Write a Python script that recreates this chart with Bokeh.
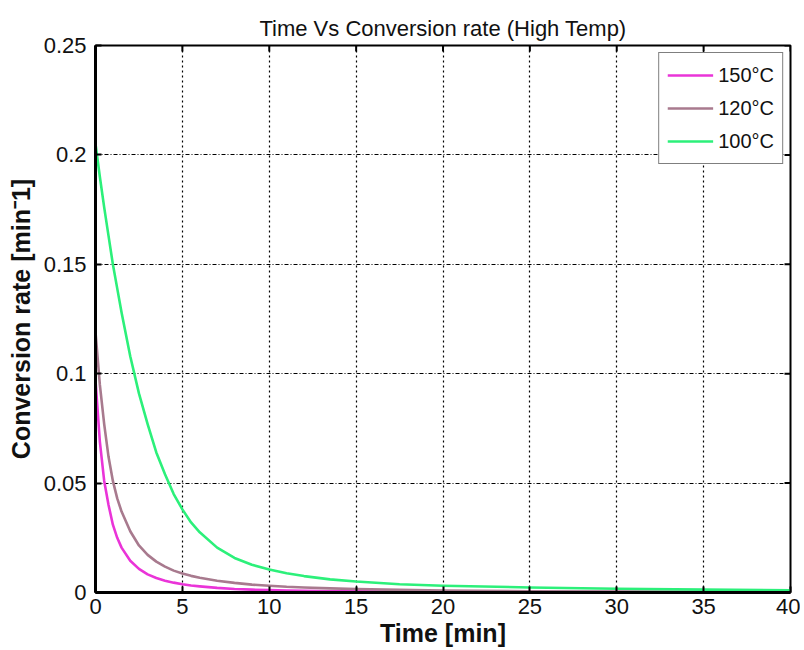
import math
from bokeh.plotting import figure
from bokeh.models import Range1d, FixedTicker, Legend, LegendItem
from bokeh.embed import file_html
from bokeh.resources import INLINE

# ---- data ----
time_min = [0, 0.25, 0.5, 0.75, 1, 1.25, 1.5, 2, 2.5, 3, 3.5, 4, 4.5, 5, 5.5,
            6, 7, 8, 9, 10, 11, 12, 13.5, 15, 17.5, 20, 25, 30, 35, 40]
rate_150 = [0.097, 0.069, 0.051, 0.040, 0.031, 0.025, 0.0205, 0.0145, 0.0108,
            0.0083, 0.0066, 0.0054, 0.0045, 0.0038, 0.0032, 0.0028, 0.0021,
            0.0016, 0.0013, 0.0011, 0.0009, 0.0008, 0.0006, 0.0005, 0.0004,
            0.0003, 0.0002, 0.00015, 0.0001, 0.0001]
rate_120 = [0.119, 0.095, 0.077, 0.062, 0.051, 0.043, 0.037, 0.028, 0.0215,
            0.0172, 0.0141, 0.0118, 0.0100, 0.0087, 0.0076, 0.0067, 0.0054,
            0.0044, 0.0036, 0.0031, 0.0026, 0.0023, 0.0019, 0.0016, 0.0012,
            0.0009, 0.0006, 0.0004, 0.0003, 0.0002]
rate_100 = [0.205, 0.190, 0.176, 0.163, 0.150, 0.139, 0.128, 0.108, 0.091,
            0.077, 0.064, 0.054, 0.045, 0.038, 0.032, 0.0275, 0.0205,
            0.0158, 0.0127, 0.0105, 0.0088, 0.0075, 0.0060, 0.0050, 0.0038,
            0.0031, 0.0023, 0.0017, 0.0013, 0.0010]
series_names = ["150°C", "120°C", "100°C"]
series_colors = ["#ea34d8", "#a87a8e", "#2cf07a"]
x_ticks = [0, 5, 10, 15, 20, 25, 30, 35, 40]
y_ticks = [0, 0.05, 0.1, 0.15, 0.2, 0.25]
y_tick_labels = ["0", "0.05", "0.1", "0.15", "0.2", "0.25"]
x_min, x_max = 0, 40
y_min, y_max = 0, 0.25

FONT = "Liberation Sans"

p = figure(width=800, height=650, output_backend="svg", toolbar_location=None,
           x_range=Range1d(x_min, x_max), y_range=Range1d(y_min, y_max),
           min_border_left=95, min_border_right=10, min_border_top=45,
           min_border_bottom=58, background_fill_color="white",
           border_fill_color="white")

p.title.text = "Time Vs Conversion rate (High Temp)"
p.title.align = "center"
p.title.text_font = FONT
p.title.text_font_size = "22px"
p.title.text_font_style = "normal"
p.title.text_color = "#111111"

p.outline_line_color = "black"
p.outline_line_width = 2
p.outline_line_alpha = 1

# axes
for ax in (p.xaxis[0], p.yaxis[0]):
    ax.major_label_text_font = FONT
    ax.major_label_text_font_size = "22px"
    ax.major_label_text_color = "#111111"
    ax.axis_label_text_font = FONT
    ax.axis_label_text_font_size = "25px"
    ax.axis_label_text_font_style = "bold"
    ax.axis_label_text_color = "#111111"
    ax.major_tick_in = 6
    ax.major_tick_out = 0
    ax.major_tick_line_width = 2
    ax.major_tick_line_color = "black"
    ax.minor_tick_line_color = None
    ax.axis_line_width = 3
    ax.axis_line_color = "black"

p.xaxis[0].ticker = FixedTicker(ticks=x_ticks)
p.yaxis[0].ticker = FixedTicker(ticks=y_ticks)
p.yaxis[0].major_label_overrides = {t: l for t, l in zip(y_ticks, y_tick_labels)}
p.xaxis[0].axis_label = "Time [min]"
p.yaxis[0].axis_label = "Conversion rate [min\u207b1]"
p.xaxis[0].major_label_standoff = 6
p.yaxis[0].major_label_standoff = 9
p.xaxis[0].axis_label_standoff = 2
p.yaxis[0].axis_label_standoff = 6

# grid
p.xgrid.ticker = FixedTicker(ticks=x_ticks)
p.ygrid.ticker = FixedTicker(ticks=y_ticks)
p.xgrid.grid_line_color = "black"
p.xgrid.grid_line_dash = "2 3"
p.xgrid.grid_line_width = 1.2
p.ygrid.grid_line_color = "black"
p.ygrid.grid_line_dash = "4 2 1 2"
p.ygrid.grid_line_width = 1.2

# mirrored inward ticks on top and right edges
p.ray(x=x_ticks, y=[y_max] * len(x_ticks), length=6, length_units="screen",
      angle=-math.pi / 2, line_color="black", line_width=2)
p.ray(x=[x_max] * len(y_ticks), y=y_ticks, length=6, length_units="screen",
      angle=math.pi, line_color="black", line_width=2)

items = []
for ys, name, col in zip([rate_150, rate_120, rate_100], series_names, series_colors):
    r = p.line(time_min, ys, line_color=col, line_width=2.6, line_join="round")
    items.append(LegendItem(label=name, renderers=[r]))

legend = Legend(items=items, location="top_right")
legend.margin = 7
legend.padding = 8
legend.spacing = 5
legend.glyph_width = 46
legend.glyph_height = 28
legend.label_standoff = 5
legend.label_text_font = FONT
legend.label_text_font_size = "20px"
legend.label_text_color = "#111111"
legend.border_line_color = "black"
legend.border_line_width = 1.5
legend.background_fill_color = "white"
legend.background_fill_alpha = 1
p.add_layout(legend, "center")

open("out.html", "w").write(file_html(p, INLINE))
